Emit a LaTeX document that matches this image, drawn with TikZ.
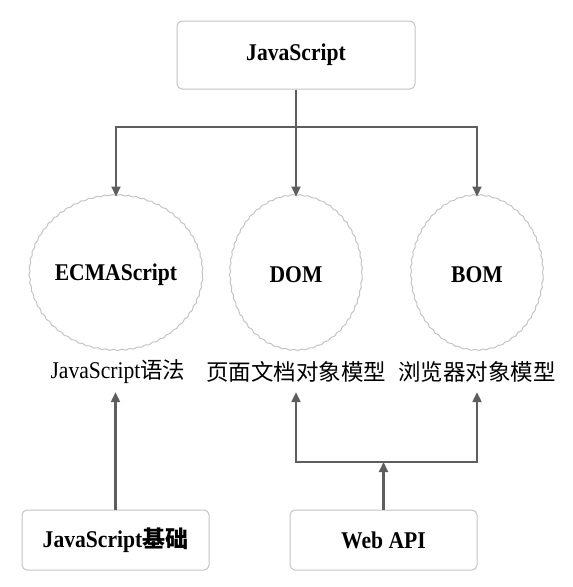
\documentclass[tikz,border=0pt]{standalone}
\usepackage{fontspec}
\setmainfont{Liberation Serif}[FakeStretch=0.9]
\newfontfamily\cjk{Noto Sans CJK SC}
\usetikzlibrary{shapes.geometric,arrows.meta,decorations.pathmorphing}
\definecolor{arrowgray}{HTML}{5E5E5E}
\definecolor{boxgray}{HTML}{C4C4C4}
\begin{document}
\begin{tikzpicture}[x=1pt,y=-1pt,
  box/.style={draw=boxgray, line width=1pt, rounded corners=5pt, fill=white,
    font=\fontsize{24}{28}\selectfont\bfseries, inner sep=0pt},
  oval/.style={ellipse, draw=boxgray, line width=1pt, decorate,
    decoration={snake, amplitude=0.6pt, segment length=8pt},
    minimum width=132pt, minimum height=155pt, inner sep=0pt,
    font=\fontsize{24}{28}\selectfont\bfseries},
  lab/.style={font=\fontsize{24}{28}\selectfont, minimum height=40pt, inner sep=0pt},
  arr/.style={draw=arrowgray, line width=2.2pt, -{Triangle[length=10pt,width=9pt]}},
  ln/.style={draw=arrowgray, line width=2.2pt}]
\useasboundingbox (0,0) rectangle (573,587);
\node[box, minimum width=238pt, minimum height=68pt] (js) at (296,55) {JavaScript};
\node[oval] (ecma) at (116,274.5) {ECMAScript};
\node[oval] (dom) at (296,274.5) {DOM};
\node[oval] (bom) at (477,274.5) {BOM};
\node[lab] (l1) at (118,372) {JavaScript{\cjk\fontsize{22.5}{26}\selectfont 语法}};
\node[lab] (l2) at (296,372) {\cjk\fontsize{22.5}{26}\selectfont 页面文档对象模型};
\node[lab] (l3) at (477,372) {\cjk\fontsize{22.5}{26}\selectfont 浏览器对象模型};
\node[box, minimum width=187pt, minimum height=60pt] (jsb) at (115.5,540) {JavaScript{\cjk\fontsize{23}{26}\selectfont 基础}};
\node[box, minimum width=187pt, minimum height=60pt] (wapi) at (383.5,540) {Web API};
\coordinate (busT) at (296,127);
\coordinate (busB) at (383.5,462);
\draw[ln] (js.south) -- (busT);
\draw[arr] (busT) -| (ecma.north);
\draw[arr] (busT) -- (dom.north);
\draw[arr] (busT) -| (bom.north);
\draw[arr] (jsb.north) -- (jsb.north |- l1.south);
\draw[arr] (wapi.north) -- (busB);
\draw[arr] (busB) -| (l2.south);
\draw[arr] (busB) -| (l3.south);
\end{tikzpicture}
\end{document}
